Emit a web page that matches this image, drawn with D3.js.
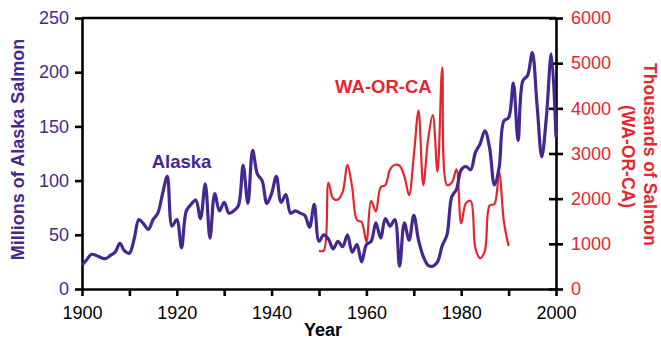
<!DOCTYPE html>
<html>
<head>
<meta charset="utf-8">
<script src="https://cdn.jsdelivr.net/npm/d3@7"></script>
<style>
  body { margin: 0; background: #fff; }
  text { font-family: "Liberation Sans", Arial, sans-serif; }
</style>
</head>
<body>
<div id="chart"></div>
<script>
// chart size and margins
var width = 661;
var height = 339;
var margin = { top: 18, right: 105, bottom: 50, left: 82 };

// Alaska catch, millions of fish, one value per year from 1900
const alaskaStart = 1900;
const alaska = [
  22, 27, 32, 31, 29, 28, 31, 34, 42, 35,
  33, 46, 64, 60, 55, 64, 70, 88, 104, 58,
  64, 38, 72, 78, 82, 65, 97, 47, 88, 72,
  80, 70, 72, 77, 114, 79, 128, 106, 100, 79,
  88, 104, 80, 87, 70, 72, 70, 68, 57, 78,
  44, 50, 46, 37, 44, 39, 50, 34, 41, 25,
  41, 44, 61, 47, 65, 58, 64, 21, 61, 45,
  68, 45, 30, 22, 21, 25, 40, 50, 85, 92,
  110, 113, 110, 126, 134, 146, 130, 96, 112, 155,
  158, 190, 137, 192, 197, 218, 170, 122, 160, 217,
  140
];

// WA-OR-CA catch, thousands of fish, one value per year from 1950
const wocStart = 1950;
const woc = [
  850, 850, 2350, 2000, 1980, 2150, 2750, 2250, 1530, 1480,
  1050, 1950, 1720, 2250, 2300, 2650, 2750, 2730, 2500, 2080,
  2950, 3950, 2300, 3300, 3850, 2600, 4900, 2300, 2350, 2650,
  1450, 1900, 1950, 900, 680, 850, 1850, 1880, 2580, 1500,
  950
];

// tick values
const xTicks = [1900, 1910, 1920, 1930, 1940, 1950, 1960, 1970, 1980, 1990, 2000];
const xLabels = [1900, 1920, 1940, 1960, 1980, 2000];
const leftTicks = [0, 50, 100, 150, 200, 250];
const rightTicks = [0, 1000, 2000, 3000, 4000, 5000, 6000];

const purple = "#45288f";
const red = "#e5252f";

var w = width - margin.left - margin.right;
var h = height - margin.top - margin.bottom;

let svg = d3.select("#chart")
  .append("svg")
  .attr("width", width)
  .attr("height", height)
  .append("g")
  .attr("transform", "translate(" + margin.left + "," + margin.top + ")");

let x = d3.scaleLinear().domain([1900, 2000]).range([0, w]);
let yL = d3.scaleLinear().domain([0, 250]).range([h, 0]);
let yR = d3.scaleLinear().domain([0, 6000]).range([h, 0]);

// bottom axis: ticks every 10 years, labels every 20
let xAxis = svg.append("g")
  .attr("transform", "translate(0," + h + ")")
  .call(d3.axisBottom(x).tickValues(xTicks).tickSize(7).tickSizeOuter(0)
    .tickFormat(d => xLabels.includes(d) ? d : ""));
xAxis.selectAll("text").attr("dy", "1.1em");

// left axis
let lAxis = svg.append("g")
  .call(d3.axisLeft(yL).tickValues(leftTicks).tickSize(7).tickSizeOuter(0).tickPadding(6));
lAxis.selectAll("text").attr("fill", purple);

// right axis, ticks cross the line
let rAxis = svg.append("g")
  .attr("transform", "translate(" + w + ",0)")
  .call(d3.axisRight(yR).tickValues(rightTicks).tickSize(7).tickSizeOuter(0).tickPadding(8)
    .tickFormat(d3.format("d")));
rAxis.selectAll(".tick line").attr("x1", -7);
rAxis.selectAll("text").attr("fill", red);

// shared axis styling
svg.selectAll(".domain").attr("stroke", "#000").attr("stroke-width", 2.6);
svg.selectAll(".tick line").attr("stroke", "#000").attr("stroke-width", 2.6);
svg.selectAll(".tick text").style("font-size", "18px");

// top frame line
svg.append("line")
  .attr("x1", 0).attr("x2", w)
  .attr("y1", 0).attr("y2", 0)
  .attr("stroke", "#000").attr("stroke-width", 2.6);

// lines
let lineA = d3.line()
  .x((d, i) => x(alaskaStart + i))
  .y(d => yL(d))
  .curve(d3.curveCatmullRom);

let lineW = d3.line()
  .x((d, i) => x(wocStart + i))
  .y(d => yR(d))
  .curve(d3.curveCatmullRom);

svg.append("path")
  .datum(woc)
  .attr("d", lineW)
  .attr("fill", "none")
  .attr("stroke", red)
  .attr("stroke-width", 2.2);

svg.append("path")
  .datum(alaska)
  .attr("d", lineA)
  .attr("fill", "none")
  .attr("stroke", purple)
  .attr("stroke-width", 3.2)
  .attr("stroke-linejoin", "round");

// series labels
svg.append("text")
  .attr("x", x(1914.7))
  .attr("y", 150)
  .attr("fill", purple)
  .style("font-size", "18.5px")
  .style("font-weight", "bold")
  .text("Alaska");

svg.append("text")
  .attr("x", x(1953.4))
  .attr("y", 75)
  .attr("fill", red)
  .style("font-size", "18.5px")
  .style("font-weight", "bold")
  .text("WA-OR-CA");

// axis titles
svg.append("text")
  .attr("text-anchor", "middle")
  .attr("x", w / 2 + 4)
  .attr("y", h + 47)
  .style("font-size", "18px")
  .style("font-weight", "bold")
  .text("Year");

svg.append("text")
  .attr("text-anchor", "middle")
  .attr("transform", "translate(" + (-58) + "," + (h / 2 - 4) + ") rotate(-90)")
  .attr("fill", purple)
  .style("font-size", "18px")
  .style("font-weight", "bold")
  .text("Millions of Alaska Salmon");

svg.append("text")
  .attr("text-anchor", "middle")
  .attr("transform", "translate(" + (w + 88) + "," + (h / 2 + 1) + ") rotate(90)")
  .attr("fill", red)
  .style("font-size", "17.5px")
  .style("font-weight", "bold")
  .text("Thousands of Salmon");

svg.append("text")
  .attr("text-anchor", "middle")
  .attr("transform", "translate(" + (w + 66) + "," + (h / 2 + 3) + ") rotate(90)")
  .attr("fill", red)
  .style("font-size", "17.5px")
  .style("font-weight", "bold")
  .text("(WA-OR-CA)");
</script>
</body>
</html>
